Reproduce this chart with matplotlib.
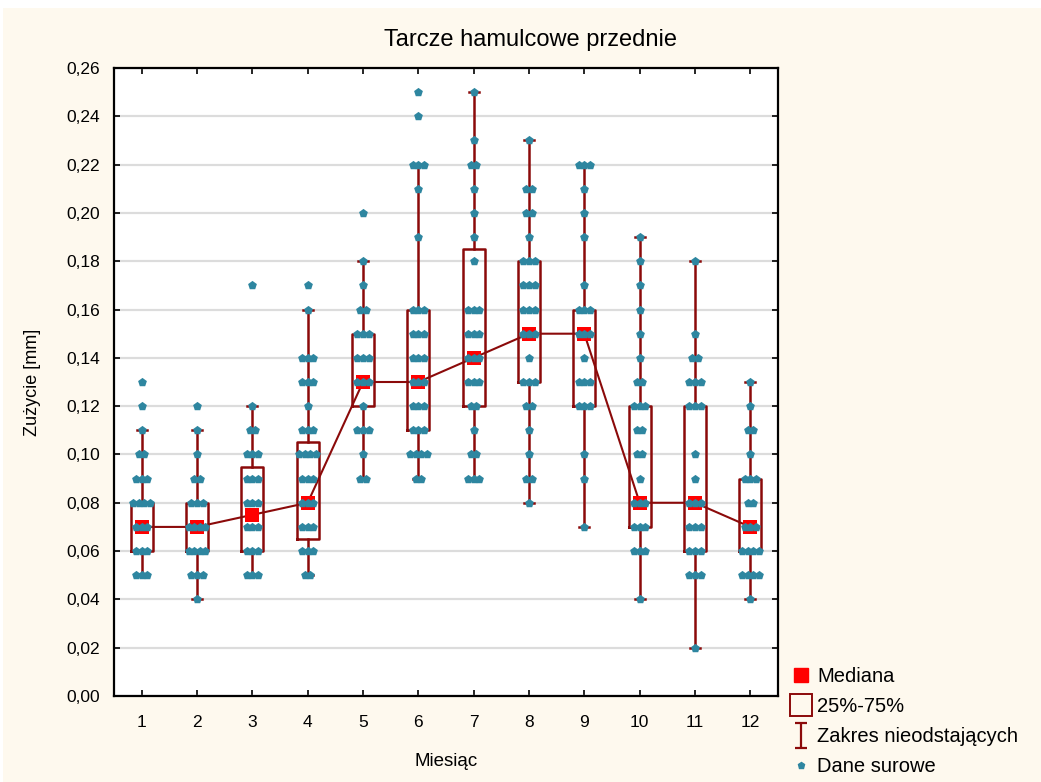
import matplotlib
matplotlib.use("Agg")
import matplotlib.pyplot as plt
import numpy as np
from matplotlib.lines import Line2D
from matplotlib.path import Path
from matplotlib.ticker import FuncFormatter, MultipleLocator
import matplotlib.patches as mpatches

plt.rcParams['font.family'] = ['Liberation Sans', 'DejaVu Sans']

months = [1, 2, 3, 4, 5, 6, 7, 8, 9, 10, 11, 12]
whisker_low = [0.05, 0.04, 0.05, 0.05, 0.09, 0.09, 0.09, 0.08, 0.07, 0.04, 0.02, 0.04]
q1 = [0.06, 0.06, 0.06, 0.065, 0.12, 0.11, 0.12, 0.13, 0.12, 0.07, 0.06, 0.06]
medians = [0.07, 0.07, 0.075, 0.08, 0.13, 0.13, 0.14, 0.15, 0.15, 0.08, 0.08, 0.07]
q3 = [0.08, 0.08, 0.095, 0.105, 0.15, 0.16, 0.185, 0.18, 0.16, 0.12, 0.12, 0.09]
whisker_high = [0.11, 0.11, 0.12, 0.16, 0.18, 0.22, 0.25, 0.23, 0.22, 0.19, 0.18, 0.13]

# raw data: (value, count) per month
raw_m1 = [(0.13, 1), (0.12, 1), (0.11, 1), (0.10, 2), (0.09, 3), (0.08, 4), (0.07, 3), (0.06, 3), (0.05, 3)]
raw_m2 = [(0.12, 1), (0.11, 1), (0.10, 1), (0.09, 2), (0.08, 3), (0.07, 4), (0.06, 4), (0.05, 3), (0.04, 1)]
raw_m3 = [(0.17, 1), (0.12, 1), (0.11, 2), (0.10, 3), (0.09, 3), (0.08, 3), (0.07, 3), (0.06, 3), (0.05, 3)]
raw_m4 = [(0.17, 1), (0.16, 1), (0.14, 3), (0.13, 3), (0.12, 1), (0.11, 3), (0.10, 4), (0.09, 3), (0.08, 3), (0.07, 3), (0.06, 3), (0.05, 2)]
raw_m5 = [(0.20, 1), (0.18, 1), (0.17, 1), (0.16, 2), (0.15, 3), (0.14, 3), (0.13, 3), (0.12, 1), (0.11, 3), (0.10, 1), (0.09, 2)]
raw_m6 = [(0.25, 1), (0.24, 1), (0.22, 3), (0.21, 1), (0.19, 1), (0.16, 3), (0.15, 3), (0.14, 3), (0.13, 3), (0.12, 3), (0.11, 3), (0.10, 4), (0.09, 2)]
raw_m7 = [(0.25, 1), (0.23, 1), (0.22, 2), (0.21, 1), (0.20, 1), (0.19, 1), (0.18, 1), (0.16, 3), (0.15, 3), (0.14, 3), (0.13, 3), (0.12, 2), (0.11, 1), (0.10, 2), (0.09, 3)]
raw_m8 = [(0.23, 1), (0.21, 2), (0.20, 2), (0.19, 1), (0.18, 3), (0.17, 3), (0.16, 3), (0.15, 3), (0.14, 1), (0.13, 3), (0.12, 2), (0.11, 1), (0.10, 1), (0.09, 2), (0.08, 1)]
raw_m9 = [(0.22, 3), (0.21, 1), (0.20, 1), (0.19, 1), (0.17, 1), (0.16, 3), (0.15, 3), (0.14, 1), (0.13, 3), (0.12, 3), (0.10, 1), (0.09, 1), (0.07, 1)]
raw_m10 = [(0.19, 1), (0.18, 1), (0.17, 1), (0.16, 1), (0.15, 1), (0.14, 1), (0.13, 2), (0.12, 3), (0.11, 2), (0.10, 2), (0.09, 1), (0.08, 3), (0.07, 3), (0.06, 3), (0.04, 1)]
raw_m11 = [(0.18, 1), (0.15, 1), (0.14, 2), (0.13, 3), (0.12, 3), (0.10, 1), (0.09, 1), (0.08, 3), (0.07, 3), (0.06, 3), (0.05, 3), (0.02, 1)]
raw_m12 = [(0.13, 1), (0.12, 1), (0.11, 2), (0.10, 1), (0.09, 3), (0.08, 2), (0.07, 3), (0.06, 4), (0.05, 4), (0.04, 1)]
raw_data = [raw_m1, raw_m2, raw_m3, raw_m4, raw_m5, raw_m6, raw_m7, raw_m8, raw_m9, raw_m10, raw_m11, raw_m12]

title = "Tarcze hamulcowe przednie"
xlabel = "Miesiąc"
ylabel = "Zużycie [mm]"
legend_labels = ["Mediana", "25%-75%", "Zakres nieodstających", "Dane surowe"]

BG = "#FEF9EE"
DARKRED = "#8B0A0A"
RED = "#FF0000"
TEAL = "#2E86A0"

fig = plt.figure(figsize=(10.41, 7.82), dpi=100, facecolor=BG)
# white border strips like the reference
fig.patches.append(mpatches.Rectangle((0, 1 - 8 / 782), 1, 8 / 782, transform=fig.transFigure,
                                      facecolor="white", edgecolor="none", zorder=-1))
fig.patches.append(mpatches.Rectangle((0, 0), 3 / 1041, 1, transform=fig.transFigure,
                                      facecolor="white", edgecolor="none", zorder=-1))

ax = fig.add_axes([114 / 1041, 1 - 696 / 782, (778 - 114) / 1041, (696 - 68) / 782])
ax.set_facecolor("white")

stats = []
for i in range(len(months)):
    stats.append(dict(whislo=whisker_low[i], q1=q1[i], med=medians[i], q3=q3[i],
                      whishi=whisker_high[i], fliers=[]))

ax.bxp(stats, positions=months, widths=0.4, showfliers=False,
       boxprops=dict(color=DARKRED, linewidth=1.8),
       whiskerprops=dict(color=DARKRED, linewidth=1.8),
       capprops=dict(color=DARKRED, linewidth=1.8),
       medianprops=dict(linewidth=0), capwidths=0.18, manage_ticks=False)

ax.plot(months, medians, color=DARKRED, linewidth=1.5, zorder=3)
ax.scatter(months, medians, marker="s", s=115, color=RED, zorder=4, linewidths=0)

xs, ys = [], []
for m, pts in zip(months, raw_data):
    for val, cnt in pts:
        offs = (np.arange(cnt) - (cnt - 1) / 2) * 0.1
        for o in offs:
            xs.append(m + o)
            ys.append(val)
ax.scatter(xs, ys, marker="p", s=44, color=TEAL, zorder=5, linewidths=0)

ax.set_xlim(0.5, 12.5)
ax.set_ylim(0, 0.26)
ax.set_xticks(months)
ax.set_xticklabels([str(m) for m in months])
ax.yaxis.set_major_locator(MultipleLocator(0.02))
ax.yaxis.set_major_formatter(FuncFormatter(lambda v, p: f"{v:.2f}".replace(".", ",")))
ax.grid(axis="y", color="#DCDCDC", linewidth=1.6, zorder=0)
ax.set_axisbelow(True)
ax.tick_params(direction="in", length=4, width=1.2, top=True, right=True,
               labelsize=12.5, colors="black")
ax.tick_params(axis="x", pad=14)
ax.tick_params(axis="y", pad=10)
for s in ax.spines.values():
    s.set_linewidth(1.6)
    s.set_color("black")

fig.text(0.51, 1 - 40 / 782, title, fontsize=17, ha="center", va="center")
ax.set_xlabel(xlabel, fontsize=13.5, labelpad=16)
ax.set_ylabel(ylabel, fontsize=13, labelpad=18)

whisk_path = Path([(-0.5, 1), (0.5, 1), (0, 1), (0, -1), (-0.5, -1), (0.5, -1)],
                  [Path.MOVETO, Path.LINETO, Path.MOVETO, Path.LINETO, Path.MOVETO, Path.LINETO])
handles = [
    Line2D([], [], linestyle="none", marker="s", markersize=10, color=RED),
    Line2D([], [], linestyle="none", marker="s", markersize=16, markerfacecolor="none",
           markeredgecolor=DARKRED, markeredgewidth=1.4),
    Line2D([], [], linestyle="none", marker=whisk_path, markersize=18, markerfacecolor="none",
           markeredgecolor=DARKRED, markeredgewidth=1.6),
    Line2D([], [], linestyle="none", marker="p", markersize=5, color=TEAL),
]
fig.legend(handles, legend_labels, loc="lower left", bbox_to_anchor=(777 / 1041, -8 / 782),
           frameon=False, fontsize=14.5, handlelength=1.0, handletextpad=0.3,
           labelspacing=0.55, borderpad=0.2)

fig.savefig("out.png", dpi=100, facecolor=BG)
